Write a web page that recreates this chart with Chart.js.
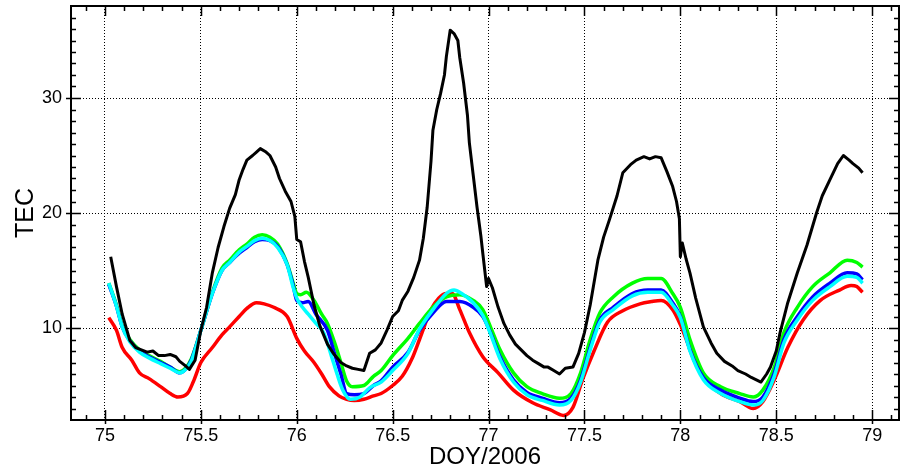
<!DOCTYPE html>
<html>
<head>
<meta charset="utf-8">
<script src="https://cdn.jsdelivr.net/npm/chart.js@4.4.1/dist/chart.umd.min.js"></script>
<style>
  html, body { margin: 0; padding: 0; background: #fff; }
  #wrap { width: 906px; height: 469px; }
</style>
</head>
<body>
<div id="wrap"><canvas id="tec" width="906" height="469"></canvas></div>
<script>
// DOY / TEC pairs
const blackTec = [[75.03,16.2],[75.06,13.6],[75.09,11.2],[75.13,8.9],[75.16,8.3],[75.19,8.1],[75.22,7.9],[75.25,8.0],[75.28,7.6],[75.31,7.6],[75.34,7.7],[75.37,7.5],[75.39,7.1],[75.42,6.7],[75.44,6.4],[75.47,7.2],[75.50,9.8],[75.53,11.8],[75.56,14.8],[75.59,17.0],[75.62,18.8],[75.65,20.4],[75.68,21.6],[75.70,22.9],[75.72,23.8],[75.74,24.6],[75.77,25.0],[75.79,25.3],[75.81,25.6],[75.84,25.3],[75.86,25.0],[75.89,24.0],[75.91,23.0],[75.94,21.9],[75.97,21.0],[75.99,19.7],[76.00,17.7],[76.02,17.5],[76.04,15.8],[76.06,14.4],[76.09,12.0],[76.12,10.2],[76.16,8.6],[76.19,7.8],[76.23,7.0],[76.26,6.7],[76.29,6.5],[76.32,6.4],[76.35,6.3],[76.38,7.8],[76.41,8.1],[76.44,8.7],[76.47,9.8],[76.50,11.0],[76.53,11.5],[76.55,12.4],[76.58,13.2],[76.61,14.4],[76.64,15.9],[76.66,17.8],[76.68,20.5],[76.70,24.5],[76.71,27.2],[76.73,29.0],[76.75,30.4],[76.77,32.0],[76.78,33.6],[76.80,35.9],[76.82,35.6],[76.84,35.0],[76.85,33.5],[76.87,31.3],[76.89,28.5],[76.90,26.1],[76.92,23.3],[76.94,20.5],[76.96,18.0],[76.97,16.5],[76.99,13.6],[77.00,14.3],[77.02,13.5],[77.05,11.8],[77.08,10.4],[77.11,9.4],[77.14,8.6],[77.17,8.1],[77.20,7.6],[77.23,7.2],[77.26,6.9],[77.29,6.6],[77.31,6.6],[77.34,6.3],[77.37,6.0],[77.40,6.5],[77.44,6.6],[77.47,7.8],[77.50,9.6],[77.53,12.0],[77.57,15.9],[77.60,17.9],[77.63,19.4],[77.67,21.5],[77.70,23.5],[77.74,24.2],[77.77,24.6],[77.81,24.9],[77.84,24.7],[77.87,24.9],[77.90,24.8],[77.93,23.6],[77.96,22.3],[77.98,21.0],[77.995,19.5],[78.00,16.2],[78.01,17.4],[78.03,16.0],[78.05,14.8],[78.08,12.6],[78.12,10.1],[78.16,8.7],[78.19,7.8],[78.23,7.1],[78.27,6.7],[78.30,6.3],[78.34,6.0],[78.37,5.7],[78.42,5.3],[78.45,6.0],[78.47,6.6],[78.50,8.0],[78.52,9.6],[78.56,12.2],[78.61,14.8],[78.66,17.2],[78.71,20.0],[78.74,21.5],[78.78,22.9],[78.82,24.3],[78.85,25.0],[78.88,24.6],[78.90,24.3],[78.93,23.9],[78.95,23.5]];

const greenTec = [[75.02,13.9],[75.06,12.0],[75.09,10.2],[75.13,9.0],[75.18,8.1],[75.23,7.6],[75.29,7.1],[75.34,6.6],[75.39,6.2],[75.42,6.5],[75.45,7.3],[75.50,9.8],[75.56,13.1],[75.61,15.2],[75.65,15.9],[75.70,16.8],[75.74,17.3],[75.78,17.9],[75.82,18.1],[75.86,17.9],[75.90,17.3],[75.95,15.6],[75.98,14.0],[76.00,13.0],[76.02,12.9],[76.05,13.1],[76.09,12.4],[76.13,11.2],[76.16,10.4],[76.20,8.6],[76.23,7.0],[76.26,5.4],[76.29,4.9],[76.35,5.0],[76.40,5.8],[76.44,6.3],[76.50,7.6],[76.58,9.1],[76.64,10.4],[76.71,11.8],[76.78,12.7],[76.85,12.9],[76.92,12.4],[76.97,11.6],[77.01,10.1],[77.06,8.1],[77.13,6.1],[77.20,4.9],[77.28,4.3],[77.37,3.9],[77.43,4.3],[77.48,6.1],[77.53,9.0],[77.58,11.3],[77.65,12.7],[77.75,13.9],[77.83,14.3],[77.90,14.3],[77.96,13.0],[78.00,11.8],[78.05,9.0],[78.12,6.1],[78.21,4.9],[78.31,4.3],[78.38,4.0],[78.43,4.6],[78.49,6.6],[78.54,9.6],[78.61,11.8],[78.69,13.6],[78.78,14.8],[78.87,15.9],[78.92,15.7],[78.95,15.3]];

const blueTec = [[75.02,13.8],[75.06,11.9],[75.09,10.1],[75.13,8.9],[75.18,8.0],[75.23,7.5],[75.29,7.0],[75.34,6.6],[75.39,6.1],[75.42,6.4],[75.45,7.2],[75.50,9.8],[75.56,13.0],[75.61,15.0],[75.65,15.7],[75.70,16.5],[75.74,17.0],[75.78,17.5],[75.82,17.7],[75.86,17.6],[75.90,17.1],[75.95,15.5],[75.98,13.8],[76.00,12.4],[76.03,12.2],[76.06,12.3],[76.10,11.2],[76.16,9.8],[76.20,7.6],[76.23,6.0],[76.26,4.3],[76.30,4.2],[76.35,4.3],[76.40,5.0],[76.44,5.4],[76.50,6.6],[76.58,7.9],[76.64,9.8],[76.71,11.3],[76.78,12.3],[76.85,12.3],[76.92,11.8],[76.97,11.0],[77.01,9.6],[77.06,7.5],[77.13,5.5],[77.20,4.4],[77.28,3.9],[77.37,3.5],[77.43,3.9],[77.48,5.5],[77.53,8.3],[77.58,10.7],[77.65,11.8],[77.75,13.0],[77.83,13.3],[77.90,13.3],[77.96,12.2],[78.00,11.0],[78.05,8.1],[78.12,5.7],[78.21,4.6],[78.31,3.9],[78.38,3.6],[78.43,4.0],[78.49,6.1],[78.54,9.0],[78.61,11.0],[78.69,12.7],[78.78,13.9],[78.87,14.8],[78.92,14.7],[78.95,14.2]];

const cyanTec = [[75.02,13.9],[75.06,11.9],[75.09,10.1],[75.13,8.8],[75.18,7.9],[75.23,7.4],[75.29,6.9],[75.34,6.5],[75.39,6.1],[75.42,6.4],[75.45,7.1],[75.50,9.8],[75.56,13.0],[75.61,15.0],[75.65,15.7],[75.70,16.6],[75.74,17.1],[75.78,17.6],[75.82,17.8],[75.86,17.6],[75.90,17.0],[75.95,15.5],[75.98,13.6],[76.00,12.6],[76.03,11.8],[76.06,11.2],[76.10,10.4],[76.14,9.6],[76.18,7.6],[76.21,6.0],[76.24,4.6],[76.28,3.8],[76.33,4.0],[76.38,4.8],[76.44,5.3],[76.50,6.3],[76.58,7.8],[76.64,9.9],[76.71,11.6],[76.78,13.0],[76.82,13.3],[76.86,13.0],[76.92,12.2],[76.97,11.1],[77.01,9.5],[77.06,7.3],[77.13,5.3],[77.20,4.2],[77.28,3.7],[77.37,3.3],[77.43,3.7],[77.48,5.3],[77.53,8.1],[77.58,10.5],[77.65,11.6],[77.75,12.8],[77.83,13.1],[77.90,13.1],[77.96,12.0],[78.00,10.9],[78.05,8.0],[78.12,5.5],[78.21,4.3],[78.31,3.6],[78.38,3.3],[78.43,3.7],[78.49,5.8],[78.54,8.7],[78.61,10.7],[78.69,12.4],[78.78,13.6],[78.87,14.5],[78.92,14.4],[78.95,13.9]];

const redTec = [[75.02,10.9],[75.06,9.8],[75.09,8.3],[75.14,7.2],[75.18,6.1],[75.23,5.6],[75.29,4.9],[75.34,4.3],[75.38,4.0],[75.43,4.3],[75.46,5.3],[75.50,7.0],[75.56,8.3],[75.61,9.4],[75.65,10.1],[75.70,11.0],[75.74,11.7],[75.79,12.2],[75.83,12.1],[75.88,11.8],[75.95,11.0],[76.00,9.1],[76.04,8.0],[76.09,7.0],[76.13,6.0],[76.17,4.9],[76.22,4.1],[76.26,3.8],[76.30,3.7],[76.35,3.8],[76.40,4.1],[76.44,4.3],[76.50,5.0],[76.55,5.8],[76.60,7.3],[76.64,9.0],[76.70,11.6],[76.74,12.6],[76.78,13.0],[76.81,13.0],[76.85,11.6],[76.90,9.6],[76.97,7.5],[77.05,6.1],[77.13,4.6],[77.23,3.5],[77.32,2.9],[77.39,2.4],[77.44,3.1],[77.49,5.5],[77.55,8.0],[77.62,10.5],[77.70,11.5],[77.79,12.1],[77.85,12.3],[77.90,12.4],[77.96,11.6],[78.00,10.3],[78.05,8.2],[78.12,5.7],[78.21,4.3],[78.31,3.6],[78.38,3.0],[78.43,3.6],[78.49,5.5],[78.56,8.3],[78.64,10.7],[78.73,12.4],[78.83,13.3],[78.89,13.7],[78.92,13.6],[78.95,13.1]];

const xRange = [74.823, 79.14];
const yRange = [2.0, 38.0];

const FONT = '"Liberation Sans", Helvetica, Arial, sans-serif';

function pts(pairs){
  return pairs.map(p => ({ x: p[0], y: p[1] }));
}

function series(pairs, color, width, order, smooth){
  return {
    data: pts(pairs),
    borderColor: color,
    borderWidth: width,
    pointRadius: 0,
    fill: false,
    order,
    borderJoinStyle: "round",
    tension: smooth ? 0.3 : 0,
    cubicInterpolationMode: smooth ? "monotone" : "default"
  };
}

// box frame + inward ticks on all four sides (major ones poke outside too)
const frameTicks = {
  id: "frameTicks",
  afterDraw(chart){
    const { ctx, chartArea: a, scales: { x, y } } = chart;
    ctx.save();
    ctx.strokeStyle = "#000";
    ctx.lineWidth = 1.5;
    ctx.beginPath();
    for (let i = 749; i <= 791; i++){
      const v = i / 10;
      if (v < xRange[0] || v > xRange[1]) continue;
      const px = Math.round(x.getPixelForValue(v)) + 0.5;
      const major = i % 5 === 0;
      const len = major ? 10 : 5;
      ctx.moveTo(px, a.bottom + (major ? 4 : 0)); ctx.lineTo(px, a.bottom - len);
      ctx.moveTo(px, a.top); ctx.lineTo(px, a.top + len);
    }
    for (let v = 3; v <= 37; v++){
      const py = Math.round(y.getPixelForValue(v)) + 0.5;
      const major = v % 10 === 0;
      const len = major ? 10 : 5;
      ctx.moveTo(a.left - (major ? 5 : 0), py); ctx.lineTo(a.left + len, py);
      ctx.moveTo(a.right, py); ctx.lineTo(a.right - len, py);
    }
    ctx.stroke();
    ctx.lineWidth = 2;
    ctx.strokeRect(a.left, a.top, a.right - a.left, a.bottom - a.top);
    ctx.restore();
  }
};

new Chart(document.getElementById("tec").getContext("2d"), {
  type: "line",
  data: {
    datasets: [
      series(blackTec, "#000000", 3, 0, false),
      series(cyanTec, "#00ffff", 3.5, 1, true),
      series(blueTec, "#0000ff", 3.5, 2, true),
      series(greenTec, "#00ff00", 3.5, 3, true),
      series(redTec, "#ff0000", 3.5, 4, true)
    ]
  },
  options: {
    responsive: false,
    animation: false,
    events: [],
    layout: { padding: { top: 6, right: 7, left: 0, bottom: 0 } },
    plugins: { legend: { display: false }, tooltip: { enabled: false } },
    scales: {
      x: {
        type: "linear",
        min: xRange[0],
        max: xRange[1],
        afterFit(s){ s.height = 49; s.paddingLeft = 0; s.paddingRight = 0; },
        ticks: {
          stepSize: 0.5,
          includeBounds: false,
          padding: 5,
          color: "#000",
          font: { family: FONT, size: 18 },
          callback: v => String(v)
        },
        grid: { color: "#000", lineWidth: 1, drawTicks: false },
        border: { display: false, dash: [1, 2] },
        title: {
          display: true,
          text: "DOY/2006",
          color: "#000",
          font: { family: FONT, size: 24, lineHeight: 1 },
          padding: { top: 0, bottom: 0 }
        }
      },
      y: {
        type: "linear",
        min: yRange[0],
        max: yRange[1],
        afterFit(s){ s.width = 71; s.paddingTop = 0; s.paddingBottom = 0; },
        ticks: {
          stepSize: 10,
          includeBounds: false,
          padding: 9,
          color: "#000",
          font: { family: FONT, size: 18 },
          callback: v => (v % 10 === 0 ? String(v) : "")
        },
        grid: { color: "#000", lineWidth: 1, drawTicks: false },
        border: { display: false, dash: [1, 2] },
        title: {
          display: true,
          text: "TEC",
          color: "#000",
          font: { family: FONT, size: 25, lineHeight: 1 },
          padding: { top: 14, bottom: 0 }
        }
      }
    }
  },
  plugins: [frameTicks]
});
</script>
</body>
</html>
